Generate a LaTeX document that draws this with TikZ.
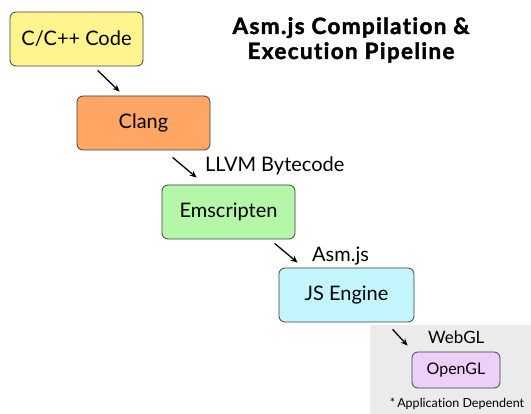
\documentclass[tikz,border=0pt]{standalone}
\usepackage{fontspec}
\setmainfont[Ligatures=NoCommon]{Lato}
\newfontfamily\titlefont[LetterSpace=6,FakeBold=1.8,Ligatures=NoCommon]{Lato Bold}
\usetikzlibrary{arrows.meta,calc}
\definecolor{cyel}{HTML}{FFF48E}
\definecolor{corg}{HTML}{FFA665}
\definecolor{cgrn}{HTML}{B4F7A8}
\definecolor{ccyn}{HTML}{C2F5FC}
\definecolor{cvio}{HTML}{EDCFF9}
\definecolor{cgry}{HTML}{EBEBEB}
\tikzset{
  stagebox/.style={draw=black!75, line width=0.8pt, rounded corners=6pt, inner sep=0pt,
    minimum width=133pt, minimum height=54pt, font=\fontsize{20}{24}\selectfont},
  arr/.style={line width=1.3pt, -{Stealth[length=7pt,width=6pt]}},
  lbl/.style={inner sep=0pt, font=\fontsize{20}{24}\selectfont},
}
\begin{document}
\begin{tikzpicture}[x=1pt,y=-1pt]
\useasboundingbox (0,0) rectangle (531,414);
\fill[white] (0,0) rectangle (531,414);
% grey background for application dependent part
\fill[cgry] (531,414) -- (370,414) -- (370,331) .. controls (370,325) .. (376,325) -- (531,325) -- cycle;
% title
\node[align=center, inner sep=0pt, font=\titlefont\fontsize{22.5}{25}\selectfont] (title) at (351,40)
  {Asm.js Compilation \&\\Execution Pipeline};
% stages
\node[stagebox, fill=cyel] (code) at (76.5,39) {C/C++ Code};
\node[stagebox, fill=corg] (clang) at (143.5,123) {Clang};
\node[stagebox, fill=cgrn] (ems) at (228.5,212) {Emscripten};
\node[stagebox, fill=ccyn, minimum width=135pt] (js) at (346.5,295) {JS Engine};
\node[stagebox, fill=cvio, minimum width=88pt, minimum height=36pt,
  font=\fontsize{16}{19}\selectfont] (gl) at (456,370) {OpenGL};
% labels
\node[lbl, anchor=west] (l1) at (205,166) {LLVM Bytecode};
\node[lbl, anchor=west] (l2) at (312,256) {Asm.js};
\node[lbl, anchor=west, font=\fontsize{17}{20}\selectfont] (l3) at (428,337) {WebGL};
\node[inner sep=0pt, font=\fontsize{12.5}{14}\selectfont] (note) at (457,404) {*\,Application Dependent};
% connectors
\coordinate (a1s) at ($(code.south west)+(88,4)$);
\coordinate (a1e) at ($(clang.north west)+(43,-4)$);
\coordinate (a2s) at ($(clang.south west)+(96,7)$);
\coordinate (a2e) at ($(ems.north west)+(35,-7)$);
\coordinate (a3s) at ($(ems.south west)+(113,4)$);
\coordinate (a3e) at ($(js.north west)+(19,-5)$);
\coordinate (a4s) at ($(js.south west)+(114,7)$);
\coordinate (a4e) at ($(gl.north west)+(-4,-6)$);
\draw[arr] (a1s) -- (a1e);
\draw[arr] (a2s) -- (a2e);
\draw[arr] (a3s) -- (a3e);
\draw[arr] (a4s) -- (a4e);
\end{tikzpicture}
\end{document}
